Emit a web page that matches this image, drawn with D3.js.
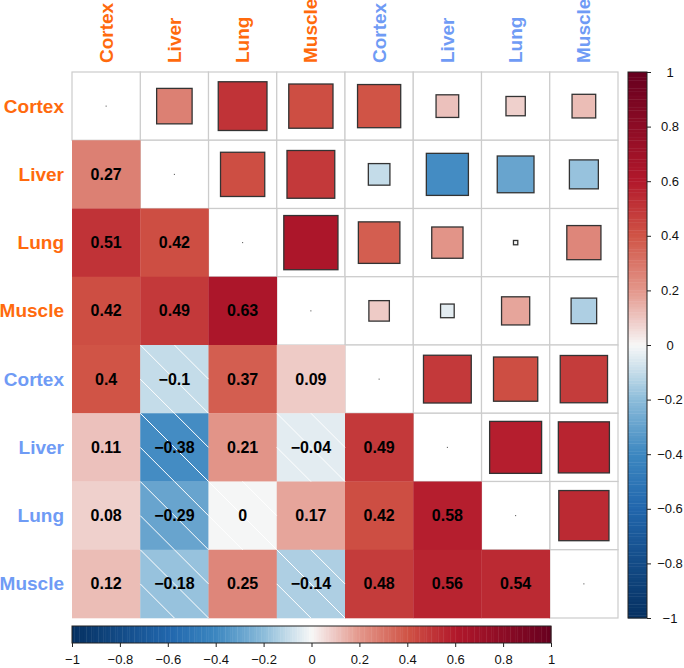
<!DOCTYPE html>
<html>
<head>
<meta charset="utf-8">
<script src="https://cdn.jsdelivr.net/npm/d3@7"></script>
<style>
  html, body { margin: 0; padding: 0; background: #fff; }
  svg { display: block; font-family: "Liberation Sans", Arial, Helvetica, sans-serif; }
</style>
</head>
<body>
<svg id="chart" width="684" height="668"></svg>
<script>
// ---------------- data ----------------
const labels = ["Cortex", "Liver", "Lung", "Muscle", "Cortex", "Liver", "Lung", "Muscle"];
const labelGroups = ["A", "A", "A", "A", "B", "B", "B", "B"];

// lower-triangle correlations, row by row (row i has i values: columns 0..i-1)
const row1 = [0.27];
const row2 = [0.51, 0.42];
const row3 = [0.42, 0.49, 0.63];
const row4 = [0.40, -0.10, 0.37, 0.09];
const row5 = [0.11, -0.38, 0.21, -0.04, 0.49];
const row6 = [0.08, -0.29, -0.004, 0.17, 0.42, 0.58];
const row7 = [0.12, -0.18, 0.25, -0.14, 0.48, 0.56, 0.54];
const lowerRows = [[], row1, row2, row3, row4, row5, row6, row7];

const colorbarTicks = [-1, -0.8, -0.6, -0.4, -0.2, 0, 0.2, 0.4, 0.6, 0.8, 1];

// ---------------- setup ----------------
const svg = d3.select("#chart");
const n = labels.length;
const gridLeft = 72, gridTop = 72, gridSize = 546;

const x = d3.scaleBand().domain(d3.range(n)).range([gridLeft, gridLeft + gridSize]);
const y = d3.scaleBand().domain(d3.range(n)).range([gridTop, gridTop + gridSize]);
const cw = x.bandwidth();

const color = d3.scaleLinear()
  .domain([-1, -0.6, -0.4, -0.2, -0.1, 0, 0.1, 0.2, 0.4, 0.6, 1])
  .range(["#053061", "#2166AC", "#3C87C0", "#8CBCDA", "#C4DCE9", "#F7F7F7",
          "#EDC6C1", "#E3978B", "#D05446", "#B2182B", "#67001F"])
  .interpolate(d3.interpolateRgb)
  .clamp(true);

const groupColor = { A: "#FF6A0D", B: "#6F9BF5" };

// build cells
const lowerCells = [], upperCells = [], diagCells = [];
lowerRows.forEach((row, i) => {
  row.forEach((v, j) => {
    lowerCells.push({ i, j, v });
    upperCells.push({ i: j, j: i, v }); // symmetric position
  });
  diagCells.push({ i, j: i, v: 0 });
});

// ---------------- grid (upper + diagonal) ----------------
const gGrid = svg.append("g");
gGrid.selectAll("rect")
  .data(upperCells.concat(diagCells))
  .join("rect")
  .attr("x", d => x(d.j))
  .attr("y", d => y(d.i))
  .attr("width", cw)
  .attr("height", cw)
  .attr("fill", "#fff")
  .attr("stroke", "#CCCCCC")
  .attr("stroke-width", 1.2);

// ---------------- lower triangle full cells ----------------
const gLower = svg.append("g");
gLower.selectAll("rect")
  .data(lowerCells)
  .join("rect")
  .attr("x", d => x(d.j))
  .attr("y", d => y(d.i))
  .attr("width", cw + 0.3)
  .attr("height", cw + 0.3)
  .attr("fill", d => color(d.v));

// hatch for negative values
const hatch = [];
lowerCells.filter(d => d.v < 0).forEach(d => {
  const x0 = x(d.j), y0 = y(d.i), h = cw / 2;
  hatch.push([x0, y0, x0 + cw, y0 + cw]);
  hatch.push([x0 + h, y0, x0 + cw, y0 + h]);
  hatch.push([x0, y0 + h, x0 + h, y0 + cw]);
});
gLower.selectAll("line")
  .data(hatch)
  .join("line")
  .attr("x1", d => d[0]).attr("y1", d => d[1])
  .attr("x2", d => d[2]).attr("y2", d => d[3])
  .attr("stroke", "#fff")
  .attr("stroke-width", 1);

// numbers
const fmt = v => {
  const r = Math.round(v * 100) / 100;
  return (r === 0 ? "0" : String(r)).replace("-", "\u2212");
};
gLower.selectAll("text")
  .data(lowerCells)
  .join("text")
  .attr("x", d => x(d.j) + cw / 2)
  .attr("y", d => y(d.i) + cw / 2)
  .attr("text-anchor", "middle")
  .attr("dominant-baseline", "central")
  .attr("font-size", 16)
  .attr("font-weight", "bold")
  .attr("fill", "#000")
  .text(d => fmt(d.v));

// ---------------- upper triangle squares ----------------
const gUpper = svg.append("g");
gUpper.selectAll("rect")
  .data(upperCells)
  .join("rect")
  .attr("x", d => x(d.j) + (cw - Math.sqrt(Math.abs(d.v)) * cw) / 2)
  .attr("y", d => y(d.i) + (cw - Math.sqrt(Math.abs(d.v)) * cw) / 2)
  .attr("width", d => Math.sqrt(Math.abs(d.v)) * cw)
  .attr("height", d => Math.sqrt(Math.abs(d.v)) * cw)
  .attr("fill", d => color(d.v))
  .attr("stroke", "#333")
  .attr("stroke-width", 1.3);

// diagonal dots
gUpper.selectAll("rect.diag")
  .data(diagCells)
  .join("rect")
  .attr("class", "diag")
  .attr("x", d => x(d.j) + cw / 2 - 0.5)
  .attr("y", d => y(d.i) + cw / 2 - 0.5)
  .attr("width", 1)
  .attr("height", 1)
  .attr("fill", "#444");

// ---------------- labels ----------------
svg.append("g").selectAll("text")
  .data(labels)
  .join("text")
  .attr("transform", (d, k) => `translate(${x(k) + cw / 2},63) rotate(-90)`)
  .attr("text-anchor", "start")
  .attr("dominant-baseline", "central")
  .attr("font-size", 19)
  .attr("font-weight", "bold")
  .attr("fill", (d, k) => groupColor[labelGroups[k]])
  .text(d => d);

svg.append("g").selectAll("text")
  .data(labels)
  .join("text")
  .attr("x", 64)
  .attr("y", (d, k) => y(k) + cw / 2)
  .attr("text-anchor", "end")
  .attr("dominant-baseline", "central")
  .attr("font-size", 19)
  .attr("font-weight", "bold")
  .attr("fill", (d, k) => groupColor[labelGroups[k]])
  .text(d => d);

// ---------------- colour bars ----------------
const steps = d3.range(200).map(k => -1 + (k + 0.5) * 2 / 200);
const tickFmt = d3.format("~g");

// vertical
const vbX = 628, vbW = 19;
const vScale = d3.scaleLinear().domain([-1, 1]).range([gridTop + gridSize, gridTop]);
const gV = svg.append("g");
gV.selectAll("rect")
  .data(steps)
  .join("rect")
  .attr("x", vbX)
  .attr("y", d => vScale(d + 0.005))
  .attr("width", vbW)
  .attr("height", Math.abs(vScale(0) - vScale(0.01)) + 0.4)
  .attr("fill", d => color(d));
gV.append("rect")
  .attr("x", vbX).attr("y", vScale(1))
  .attr("width", vbW).attr("height", vScale(-1) - vScale(1))
  .attr("fill", "none").attr("stroke", "#222").attr("stroke-width", 1);
const vAxis = gV.append("g")
  .attr("transform", `translate(${vbX + vbW},0)`)
  .call(d3.axisRight(vScale).tickValues(colorbarTicks).tickSize(4).tickFormat(tickFmt));
vAxis.select(".domain").remove();
vAxis.selectAll("line").attr("stroke", "#222");
vAxis.selectAll("text")
  .attr("x", 23)
  .attr("text-anchor", "middle")
  .attr("font-size", 13)
  .attr("font-family", "Liberation Sans, Arial, sans-serif")
  .attr("fill", "#111");

// horizontal
const hbY = 626, hbH = 17;
const hScale = d3.scaleLinear().domain([-1, 1]).range([72, 551]);
const gH = svg.append("g");
gH.selectAll("rect")
  .data(steps)
  .join("rect")
  .attr("x", d => hScale(d - 0.005))
  .attr("y", hbY)
  .attr("width", Math.abs(hScale(0.01) - hScale(0)) + 0.4)
  .attr("height", hbH)
  .attr("fill", d => color(d));
gH.append("rect")
  .attr("x", hScale(-1)).attr("y", hbY)
  .attr("width", hScale(1) - hScale(-1)).attr("height", hbH)
  .attr("fill", "none").attr("stroke", "#222").attr("stroke-width", 1);
const hAxis = gH.append("g")
  .attr("transform", `translate(0,${hbY + hbH})`)
  .call(d3.axisBottom(hScale).tickValues(colorbarTicks).tickSize(4).tickFormat(tickFmt));
hAxis.select(".domain").remove();
hAxis.selectAll("line").attr("stroke", "#222");
hAxis.selectAll("text")
  .attr("y", 12)
  .attr("font-size", 13)
  .attr("font-family", "Liberation Sans, Arial, sans-serif")
  .attr("fill", "#111");
</script>
</body>
</html>
